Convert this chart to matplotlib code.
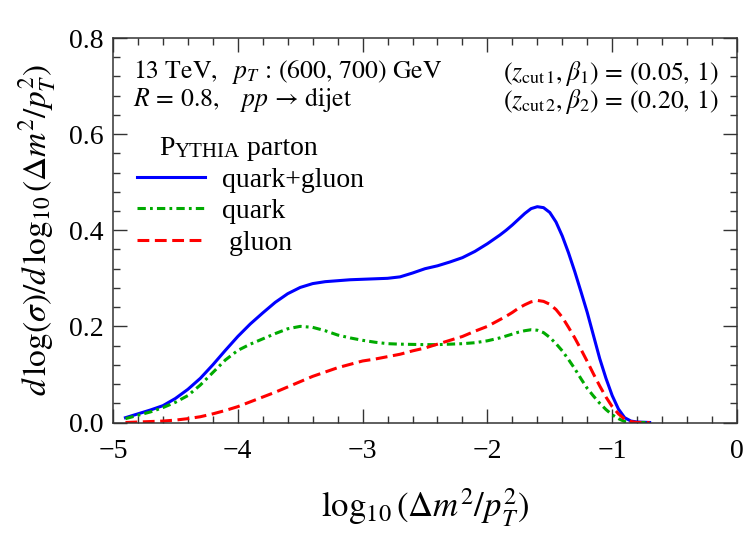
import numpy as np
import matplotlib
matplotlib.use("Agg")
import matplotlib.pyplot as plt

plt.rcParams['font.family'] = ['Liberation Serif', 'DejaVu Serif']
plt.rcParams['mathtext.fontset'] = 'stix'
plt.rcParams['lines.scale_dashes'] = False

# log10(dm^2/pT^2) grid
x = [-4.9, -4.8, -4.7, -4.6, -4.5, -4.4, -4.3, -4.2, -4.1, -4.0,
     -3.9, -3.8, -3.7, -3.6, -3.5, -3.4, -3.3, -3.2, -3.1, -3.0,
     -2.9, -2.8, -2.7, -2.6, -2.5, -2.4, -2.3, -2.2, -2.1, -2.0,
     -1.9, -1.85, -1.8, -1.75, -1.7, -1.65, -1.6, -1.55, -1.5, -1.45,
     -1.4, -1.35, -1.3, -1.25, -1.2, -1.15, -1.1, -1.05, -1.0, -0.95,
     -0.9, -0.85, -0.8, -0.7]

quark_gluon = [0.010, 0.018, 0.026, 0.035, 0.050, 0.069, 0.092, 0.120, 0.150, 0.179,
               0.205, 0.228, 0.250, 0.268, 0.281, 0.289, 0.293, 0.295, 0.297, 0.298,
               0.299, 0.300, 0.303, 0.311, 0.320, 0.326, 0.334, 0.343, 0.356, 0.372,
               0.390, 0.400, 0.411, 0.423, 0.435, 0.445, 0.449, 0.447, 0.437, 0.417,
               0.388, 0.353, 0.314, 0.272, 0.229, 0.181, 0.133, 0.092, 0.056, 0.028,
               0.010, 0.003, 0.001, 0.000]

quark = [0.008, 0.015, 0.022, 0.031, 0.042, 0.056, 0.078, 0.104, 0.130, 0.150,
         0.163, 0.174, 0.185, 0.195, 0.200, 0.198, 0.191, 0.182, 0.176, 0.171,
         0.167, 0.164, 0.163, 0.1625, 0.162, 0.162, 0.163, 0.164, 0.166, 0.170,
         0.176, 0.180, 0.184, 0.188, 0.191, 0.193, 0.192, 0.187, 0.177, 0.164,
         0.149, 0.131, 0.112, 0.091, 0.071, 0.055, 0.040, 0.027, 0.016, 0.008,
         0.002, 0.000, 0.000, 0.000]

gluon = [0.000, 0.001, 0.002, 0.003, 0.005, 0.008, 0.012, 0.018, 0.025, 0.033,
         0.043, 0.053, 0.063, 0.074, 0.085, 0.096, 0.105, 0.114, 0.121, 0.128,
         0.132, 0.137, 0.142, 0.149, 0.155, 0.163, 0.171, 0.179, 0.190, 0.200,
         0.214, 0.221, 0.229, 0.238, 0.245, 0.251, 0.254, 0.252, 0.246, 0.235,
         0.219, 0.198, 0.176, 0.152, 0.127, 0.101, 0.076, 0.053, 0.033, 0.018,
         0.007, 0.002, 0.000, 0.000]

fig = plt.figure(figsize=(7.5, 5.38), dpi=100)
ax = fig.add_axes([113/750, 1 - 422.5/538, 624/750, 384.5/538])

l1, = ax.plot(x, quark_gluon, color='#0000ff', lw=2.2, label='quark+gluon')
l2, = ax.plot(x, quark, color='#00aa00', lw=2.2, dashes=(6, 3, 2, 3), label='quark')
l3, = ax.plot(x, gluon, color='#ff0000', lw=2.2, dashes=(8.5, 4), label=' gluon')

ax.set_xlim(-5, 0)
ax.set_ylim(0, 0.8)
ax.set_xticks([-5, -4, -3, -2, -1, 0])
ax.set_xticks(np.arange(-5, 0.01, 0.2), minor=True)
ax.set_yticks([0.0, 0.2, 0.4, 0.6, 0.8])
ax.set_yticks(np.arange(0, 0.801, 0.04), minor=True)
ax.set_yticklabels(['0.0', '0.2', '0.4', '0.6', '0.8'])
ax.set_xticklabels(['\u22125', '\u22124', '\u22123', '\u22122', '\u22121', '0'])
ax.tick_params(which='both', direction='in', top=True, right=True,
               color='#333333', labelsize=20)
ax.tick_params(axis='y', which='both', pad=7)
ax.tick_params(axis='x', which='both', pad=12)
ax.tick_params(which='major', length=10, width=1.0)
ax.tick_params(which='minor', length=5, width=1.0)
for s in ax.spines.values():
    s.set_color('#333333')
    s.set_linewidth(1.1)

ax.set_xlabel(r'$\log_{10}(\Delta m^2/p_T^2)$', fontsize=25, labelpad=16)
ax.set_ylabel(r'$d\,\log(\sigma)/d\,\log_{10}(\Delta m^2/p_T^2)$', fontsize=24, labelpad=8)

ax.text(-4.84, 0.7168, r'$13\ \mathrm{TeV},\ \ p_T\,:\,(600,\,700)\ \mathrm{GeV}$',
        fontsize=18.5, va='baseline', ha='left')
ax.text(-4.84, 0.6586, r'$R\,=\,0.8,\quad pp\,\to\,\mathrm{dijet}$',
        fontsize=18.5, va='baseline', ha='left')
ax.text(-0.152, 0.7126, r'$(z_{\mathrm{cut}\,1}, \beta_1)\,=\,(0.05,\,1)$',
        fontsize=18.5, va='baseline', ha='right')
ax.text(-0.152, 0.6544, r'$(z_{\mathrm{cut}\,2}, \beta_2)\,=\,(0.20,\,1)$',
        fontsize=18.5, va='baseline', ha='right')

# legend title in small caps: "PYTHIA parton"
t1 = ax.text(-4.632, 0.5566, 'P', fontsize=20, va='baseline', ha='left')
t2 = ax.annotate('YTHIA', xy=(1, 0), xycoords=t1, xytext=(0, -1),
                 textcoords='offset points', fontsize=15, va='bottom', ha='left')
ax.annotate(' parton', xy=(1, 0), xycoords=t2, xytext=(0, 1),
            textcoords='offset points', fontsize=20, va='bottom', ha='left')

ax.legend(handles=[l1, l2, l3], loc='upper left', bbox_to_anchor=(0.0384, 0.664),
          frameon=False, fontsize=20, handlelength=2.45, handletextpad=0.6,
          labelspacing=0.22, borderpad=0, borderaxespad=0)

fig.savefig('out.png', dpi=100)
